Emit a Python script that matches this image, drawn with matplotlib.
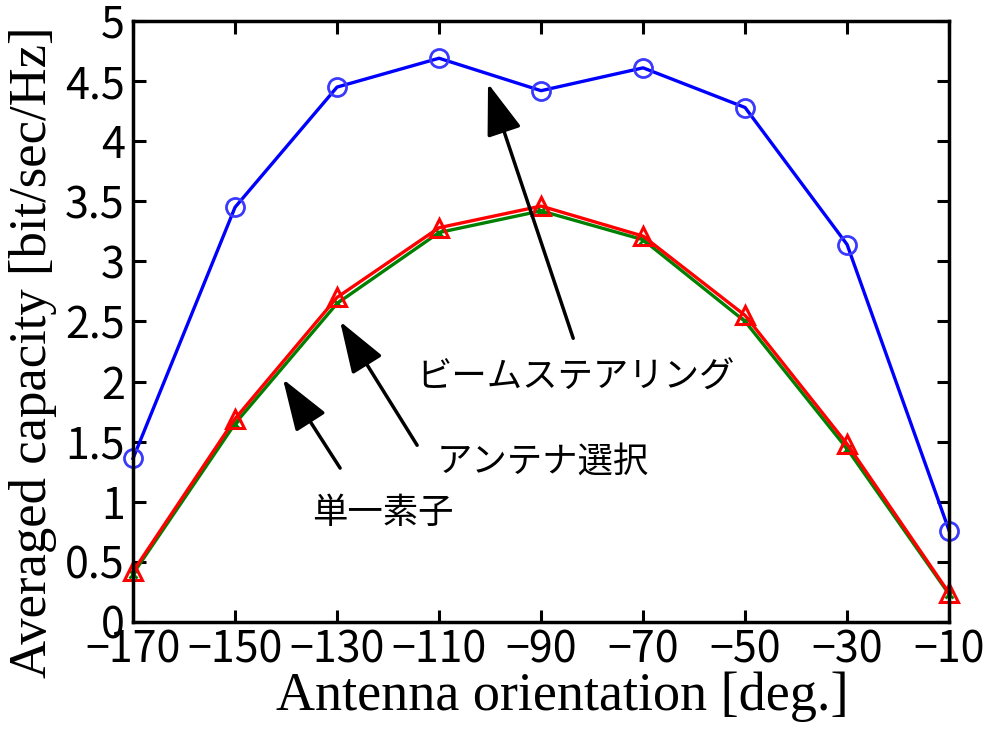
import matplotlib
matplotlib.use("Agg")
import matplotlib.pyplot as plt

angles = [-170, -150, -130, -110, -90, -70, -50, -30, -10]
beam_steering = [1.36, 3.45, 4.45, 4.69, 4.42, 4.61, 4.28, 3.14, 0.76]
antenna_selection = [0.42, 1.69, 2.70, 3.28, 3.46, 3.21, 2.55, 1.48, 0.24]
single_element = [0.40, 1.65, 2.65, 3.24, 3.42, 3.18, 2.50, 1.44, 0.23]
xticks = [-170, -150, -130, -110, -90, -70, -50, -30, -10]
yticks = [0, 0.5, 1, 1.5, 2, 2.5, 3, 3.5, 4, 4.5, 5]
ytick_labels = ["0", "0.5", "1", "1.5", "2", "2.5", "3", "3.5", "4", "4.5", "5"]

tickfont = ['Noto Sans CJK JP', 'DejaVu Sans']
serif = ['Liberation Serif', 'DejaVu Serif']

fig = plt.figure(figsize=(9.98, 7.36), dpi=100)
ax = fig.add_axes([0.1333, 0.155, 0.8177, 0.8165])

ax.plot(angles, single_element, color='green', lw=2.4, marker='x', ms=6, mew=2,
        clip_on=False)
ax.plot(angles, antenna_selection, color='red', lw=2.4, marker='^', ms=13,
        mfc='none', mew=2.2, clip_on=False)
ax.plot(angles, beam_steering, color='blue', lw=2.4, marker='o', ms=13,
        mfc='none', mew=2, mec='#3a3aff', clip_on=False)

ax.set_xlim(-170, -10)
ax.set_ylim(0, 5)
ax.set_xticks(xticks)
ax.set_xticklabels([str(v).replace('-', '\u2212') for v in xticks])
ax.set_yticks(yticks)
ax.set_yticklabels(ytick_labels)
ax.tick_params(direction='in', length=9, width=2.2, top=True, right=True)
ax.tick_params(axis='x', pad=5)
ax.tick_params(axis='y', pad=6)
for lab in ax.get_xticklabels() + ax.get_yticklabels():
    lab.set_fontfamily(tickfont)
    lab.set_fontsize(31)
for s in ax.spines.values():
    s.set_linewidth(2.5)

ax.set_xlabel('Antenna orientation [deg.]', family=serif, fontsize=39, va='top')
ax.xaxis.set_label_coords(0.526, -0.083)
ax.set_ylabel('Averaged capacity [bit/sec/Hz]', family=serif, fontsize=38,
              va='center')
ax.yaxis.set_label_coords(-0.122, 0.449)

ap = dict(arrowstyle='-|>,head_length=1.6,head_width=0.55', mutation_scale=20,
          color='black', lw=2.5, shrinkA=0, shrinkB=0)
ax.annotate('', xy=(-100.4, 4.48), xytext=(-83.7, 2.36), arrowprops=ap)
ax.annotate('', xy=(-129.4, 2.50), xytext=(-114.3, 1.47), arrowprops=ap)
ax.annotate('', xy=(-140.6, 2.02), xytext=(-129.4, 1.28), arrowprops=ap)

ax.text(-83.3, 2.03, 'ビームステアリング', family=tickfont, fontsize=25.5,
        ha='center', va='center')
ax.text(-89.6, 1.33, 'アンテナ選択', family=tickfont, fontsize=25.5,
        ha='center', va='center')
ax.text(-121, 0.91, '単一素子', family=tickfont, fontsize=25.5,
        ha='center', va='center')

fig.savefig('out.png', dpi=100)
